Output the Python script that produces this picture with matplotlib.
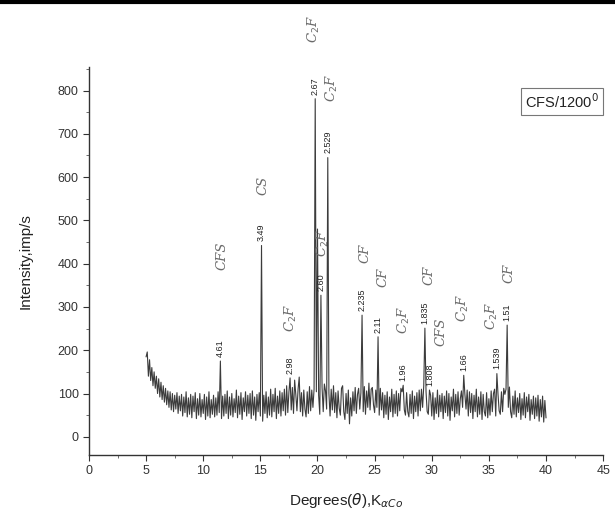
import numpy as np
import matplotlib
matplotlib.use("Agg")
import matplotlib.pyplot as plt
from matplotlib.lines import Line2D
from matplotlib.ticker import MultipleLocator

# theta (deg, Co K-alpha) sampled every 0.1 from 5.0 to 40.0
angle = np.round(np.linspace(5.0, 40.0, 351), 1)
intensity = np.array([
    185, 196, 140, 178, 130, 160, 118, 150, 112, 140,
    100, 134, 92, 126, 86, 118, 80, 112, 74, 106,
    68, 104, 62, 100, 58, 96, 64, 102, 54, 94,
    60, 98, 48, 92, 56, 104, 46, 90, 52, 98,
    44, 94, 58, 102, 42, 88, 50, 100, 46, 86,
    54, 98, 40, 92, 48, 104, 44, 86, 52, 96,
    46, 90, 50, 104, 56, 175, 42, 94, 48, 98,
    54, 106, 42, 92, 50, 100, 46, 88, 56, 108,
    44, 94, 52, 102, 40, 90, 58, 104, 48, 96,
    54, 100, 42, 106, 50, 92, 38, 98, 58, 102,
    48, 442, 36, 96, 54, 104, 44, 92, 50, 110,
    46, 98, 58, 112, 42, 94, 54, 106, 48, 102,
    60, 110, 50, 118, 56, 104, 136, 62, 114, 54,
    131, 98, 60, 110, 138, 58, 102, 48, 108, 64,
    46, 104, 54, 116, 60, 108, 68, 110, 781, 104,
    480, 96, 52, 327, 114, 58, 122, 106, 64, 645,
    100, 48, 110, 62, 118, 56, 102, 44, 106, 66,
    50, 112, 118, 58, 40, 100, 54, 108, 30, 90,
    48, 104, 60, 114, 54, 98, 112, 64, 102, 281,
    58, 116, 52, 106, 68, 124, 62, 110, 114, 74,
    56, 108, 68, 231, 50, 112, 62, 102, 44, 96,
    52, 104, 40, 92, 58, 110, 46, 98, 54, 106,
    48, 100, 60, 112, 104, 119, 62, 50, 102, 58,
    46, 98, 54, 106, 42, 94, 58, 102, 48, 108,
    60, 110, 68, 118, 251, 104, 58, 52, 108, 96,
    48, 102, 40, 90, 54, 108, 46, 96, 58, 100,
    42, 94, 56, 106, 48, 100, 38, 92, 60, 110,
    46, 98, 54, 104, 50, 88, 106, 68, 142, 98,
    64, 108, 48, 104, 56, 100, 42, 96, 58, 110,
    46, 92, 52, 104, 40, 98, 58, 48, 102, 44,
    88, 50, 106, 58, 100, 110, 48, 146, 98, 60,
    52, 104, 58, 112, 98, 110, 258, 68, 115, 58,
    44, 94, 52, 106, 46, 90, 56, 100, 40, 88,
    50, 102, 44, 92, 58, 98, 38, 86, 52, 94,
    42, 90, 48, 96, 36, 86, 46, 94, 34, 84,
    44,
])

# d-spacing labels and the peak they sit on
peak_angle = [11.5, 15.1, 17.6, 19.8, 20.3, 20.9, 23.9, 25.3, 27.5, 29.4, 29.8, 32.8, 35.7, 36.6]
peak_label = ["4.61", "3.49", "2.98", "2.67", "2.60", "2.529", "2.235", "2.11",
              "1.96", "1.835", "1.808", "1.66", "1.539", "1.51"]

# handwritten phase notes
note_text = ["CFS", "CS", "C$_2$F", "C$_2$F", "C$_2$F", "C$_2$F", "CF", "CF",
             "C$_2$F", "CF", "CFS", "C$_2$F", "C$_2$F", "CF"]
note_x = [11.6, 15.2, 17.7, 19.7, 21.3, 20.45, 24.2, 25.7, 27.6, 29.8, 30.85, 32.7, 35.3, 36.8]
note_y = [419, 580, 274, 942, 806, 447, 424, 369, 270, 373, 242, 297, 279, 378]

plt.rcParams['font.family'] = ['Liberation Sans', 'DejaVu Sans']

fig = plt.figure(figsize=(6.15, 5.22), dpi=100)
ax = fig.add_axes([0.1447, 0.1284, 0.836, 0.7438])

ax.plot(angle, intensity, color='#3c3c3c', lw=0.8)

for pa, lab in zip(peak_angle, peak_label):
    h = intensity[np.argmin(np.abs(angle - pa))]
    ax.annotate(lab, (pa, h), xytext=(0, 3), textcoords='offset points',
                rotation=90, ha='center', va='bottom', fontsize=6.5, color='#222')

for t, nx, ny in zip(note_text, note_x, note_y):
    ax.text(nx, ny, t, rotation=90, ha='center', va='center', fontsize=9.5,
            style='italic', family='DejaVu Serif', color='#6a6a6a', clip_on=False)

ax.text(0.92, 0.91, "CFS/1200$^0$", transform=ax.transAxes, ha='center', va='center',
        fontsize=10.5, color='#222',
        bbox=dict(boxstyle='square,pad=0.3', fc='white', ec='#777', lw=0.8))

ax.set_xlim(0, 45)
ax.set_ylim(-42, 855)
ax.xaxis.set_major_locator(MultipleLocator(5))
ax.xaxis.set_minor_locator(MultipleLocator(2.5))
ax.yaxis.set_major_locator(MultipleLocator(100))
ax.yaxis.set_minor_locator(MultipleLocator(50))
ax.set_yticks(range(0, 801, 100))
ax.tick_params(which='major', length=4, width=0.8, colors='#333', labelsize=9)
ax.tick_params(which='minor', length=2, width=0.6, colors='#555')

for s in ['top', 'right']:
    ax.spines[s].set_visible(False)
for s in ['left', 'bottom']:
    ax.spines[s].set_color('#333')
    ax.spines[s].set_linewidth(1.0)

ax.set_ylabel("Intensity,imp/s", fontsize=11, color='#222', labelpad=18)
ax.set_xlabel(r"Degrees($\theta$),K$_{\alpha Co}$", fontsize=11, color='#222', labelpad=10)

fig.add_artist(Line2D([0, 1], [0.996, 0.996], transform=fig.transFigure, color='black', lw=3))

fig.savefig("out.png", dpi=100)
